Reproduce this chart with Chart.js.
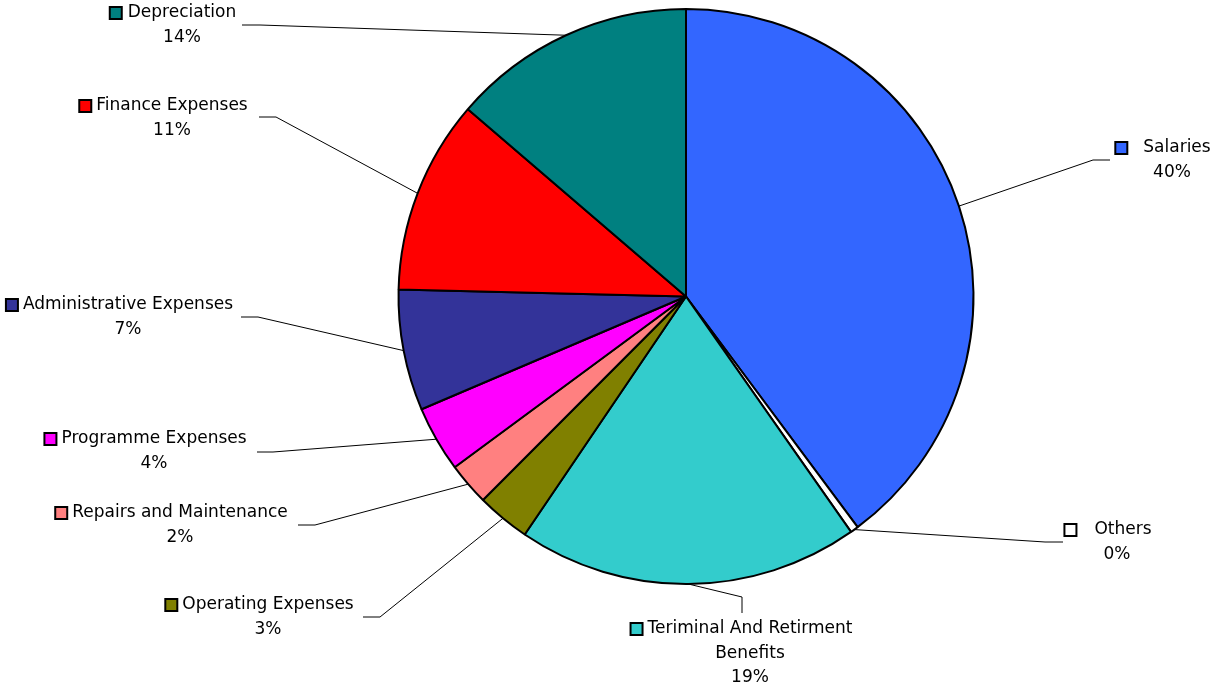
<!DOCTYPE html>
<html><head><meta charset="utf-8">
<script src="https://cdn.jsdelivr.net/npm/chart.js@4/dist/chart.umd.min.js"></script>
<style>html,body{margin:0;padding:0;background:#fff;}#wrap{width:1215px;height:690px;position:relative}</style>
</head><body><div id="wrap"><canvas id="c" width="1215" height="690"></canvas></div>
<script>
const categories = ['Salaries','Others','Teriminal And Retirment Benefits','Operating Expenses','Repairs and Maintenance','Programme Expenses','Administrative Expenses','Finance Expenses','Depreciation'];
const values = [39.8, 0.45, 19.2, 3.0, 2.4, 3.7, 6.8, 10.9, 13.7];
const colors = ['#3366FF','#FFFFFF','#33CCCC','#808000','#FF8080','#FF00FF','#333399','#FF0000','#008080'];

const labelLayout = [
  {cx:1177, y:148, gap:16, pctDx:-5, elbow:[1093,160], end:[1110,160]},
  {cx:1123, y:530, gap:18, pctDx:-6, elbow:[1045,542], end:[1063,542]},
  {cx:750, y:629, gap:5, wrap:['Teriminal And Retirment','Benefits'], elbow:[742,597], end:[742,613]},
  {cx:268, y:605, gap:5, elbow:[380,617], end:[363,617]},
  {cx:180, y:513, gap:5, elbow:[315,525], end:[298,525]},
  {cx:154, y:439, gap:5, elbow:[273,452], end:[257,452]},
  {cx:128, y:305, gap:5, elbow:[258,317], end:[241,317]},
  {cx:172, y:106, gap:5, elbow:[276,117], end:[259,117]},
  {cx:182, y:13, gap:6, elbow:[260,25], end:[242,25]}
];

const labelPlugin = {
  id: 'pieLabels',
  afterDraw(chart) {
    const ctx = chart.ctx;
    const meta = chart.getDatasetMeta(0);
    const total = values.reduce((a, b) => a + b, 0);
    ctx.save();
    meta.data.forEach((el, i) => {
      const L = labelLayout[i];
      const mid = (el.startAngle + el.endAngle) / 2;
      const r = el.outerRadius;
      const px = el.x + r * Math.cos(mid);
      const py = el.y + r * Math.sin(mid);
      ctx.beginPath();
      ctx.strokeStyle = '#000';
      ctx.lineWidth = 1;
      ctx.moveTo(px, py);
      ctx.lineTo(L.elbow[0], L.elbow[1]);
      ctx.lineTo(L.end[0], L.end[1]);
      ctx.stroke();

      ctx.font = '17px "DejaVu Sans"';
      ctx.fillStyle = '#000';
      ctx.textAlign = 'center';
      ctx.textBaseline = 'middle';
      const lines = L.wrap ? L.wrap.slice() : [categories[i]];
      const pct = Math.round(values[i] / total * 100) + '%';
      const lh = 24.5;
      lines.forEach((t, k) => ctx.fillText(t, L.cx, L.y + k * lh));
      ctx.fillText(pct, L.cx + (L.pctDx || 0), L.y + lines.length * lh);
      const w = ctx.measureText(lines[0]).width;
      const sx = L.cx - w / 2 - L.gap - 12;
      ctx.fillStyle = colors[i];
      ctx.fillRect(sx, L.y - 6, 12, 12);
      ctx.lineWidth = 2;
      ctx.strokeStyle = '#000';
      ctx.strokeRect(sx, L.y - 6, 12, 12);
    });
    ctx.restore();
  }
};

new Chart(document.getElementById('c'), {
  type: 'pie',
  data: {
    labels: categories,
    datasets: [{
      data: values,
      backgroundColor: colors,
      borderColor: '#000',
      borderWidth: 2
    }]
  },
  options: {
    responsive: false,
    animation: false,
    layout: {padding: {left: 397, right: 240, top: 8, bottom: 105}},
    plugins: {legend: {display: false}, tooltip: {enabled: false}}
  },
  plugins: [labelPlugin]
});
</script>
</body></html>
